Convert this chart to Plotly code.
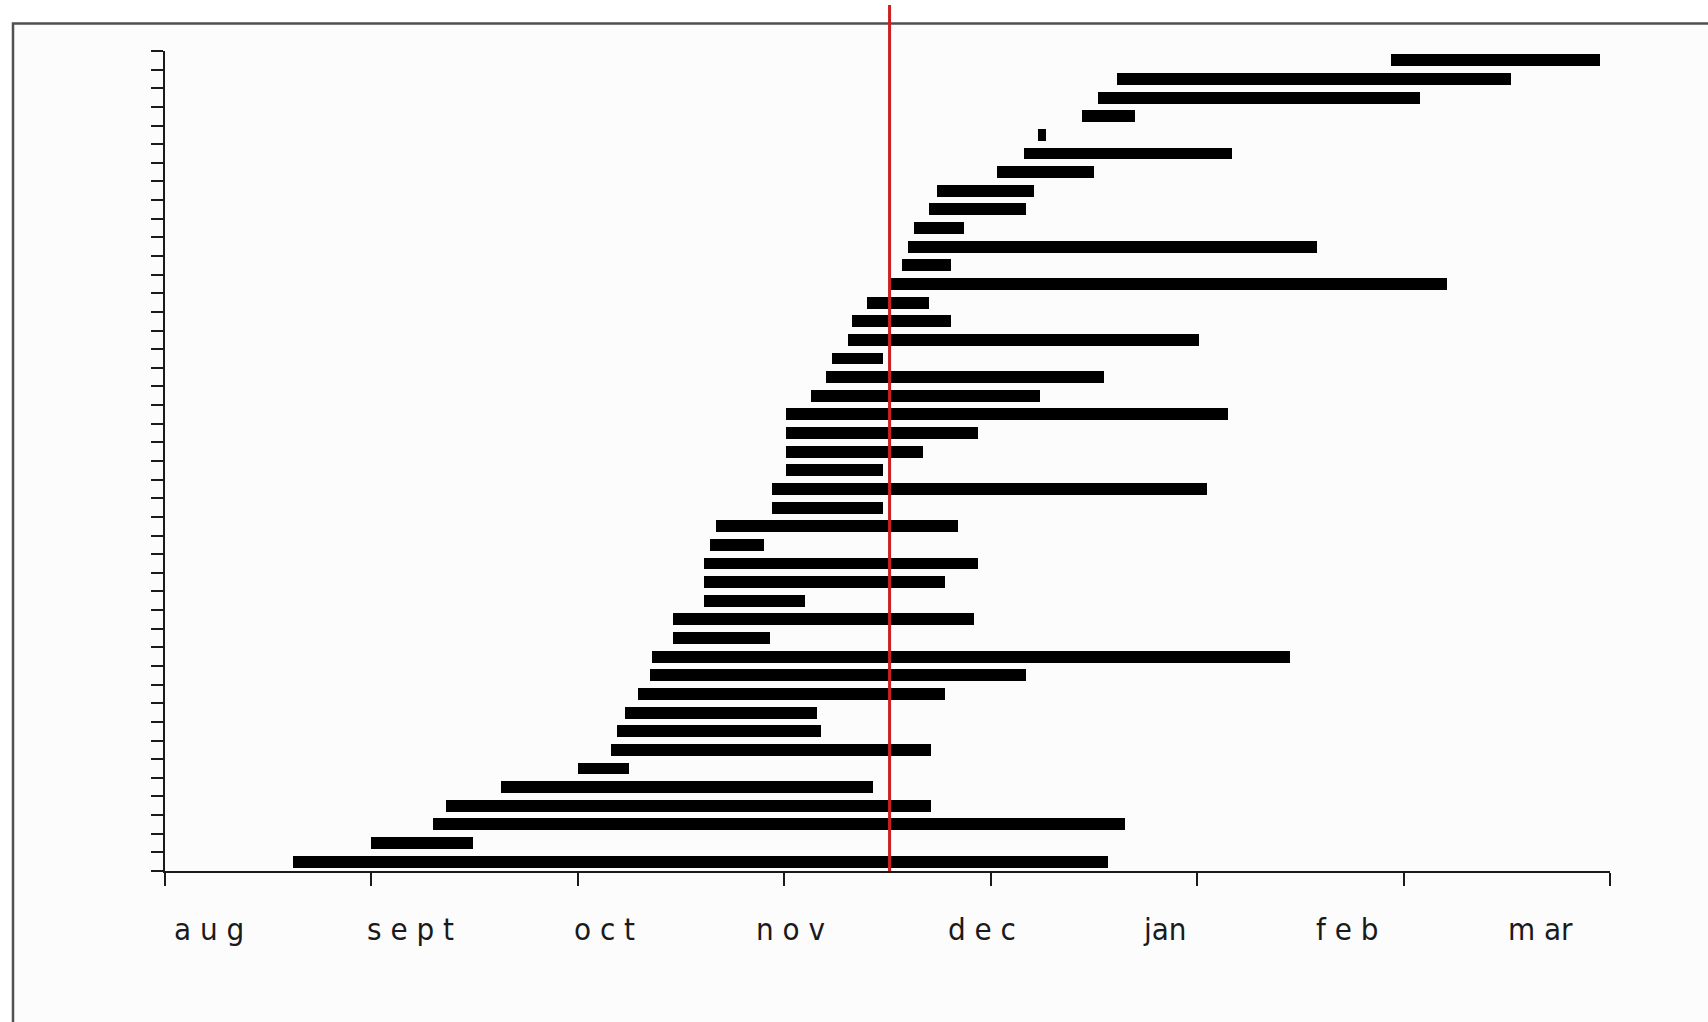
import plotly.graph_objects as go

# ---- data (x in month units: 0 = start of aug, 1 = sept, ... 7 = mar) ----
month_labels = ["a u g", "s e p t", "o c t", "n o v", "d e c", "jan", "f e b", "m ar"]

# bars listed from top of chart to bottom
start = [5.94, 4.61, 4.52, 4.44, 4.23, 4.16, 4.03, 3.74, 3.70, 3.63, 3.60,
         3.57, 3.51, 3.40, 3.33, 3.31, 3.23, 3.20, 3.13, 3.01, 3.01, 3.01,
         3.01, 2.94, 2.94, 2.67, 2.64, 2.61, 2.61, 2.61, 2.46, 2.46, 2.36,
         2.35, 2.29, 2.23, 2.19, 2.16, 2.00, 1.63, 1.36, 1.30, 1.00, 0.62]
end = [6.95, 6.52, 6.08, 4.70, 4.27, 5.17, 4.50, 4.21, 4.17, 3.87, 5.58,
       3.81, 6.21, 3.70, 3.81, 5.01, 3.48, 4.55, 4.24, 5.15, 3.94, 3.67,
       3.48, 5.05, 3.48, 3.84, 2.90, 3.94, 3.78, 3.10, 3.92, 2.93, 5.45,
       4.17, 3.78, 3.16, 3.18, 3.71, 2.25, 3.43, 3.71, 4.65, 1.49, 4.57]
marker_date = 3.51  # red reference line

n = len(start)
rows = [n - 0.5 - i for i in range(n)]  # category centres, top row first

# ---- layout geometry (pixels) ----
W, H = 1708, 1022
L, R, T, B = 165, 98, 51, 151
pw, ph = W - L - R, H - T - B

# horizontal placement of the month captions (axis units)
label_x = [0.211, 1.189, 2.129, 3.032, 3.957, 4.844, 5.726, 6.661]


def px_x(px):
    return (px - L) / pw


def px_y(py):
    return (H - B - py) / ph


fig = go.Figure()
fig.add_trace(go.Bar(
    y=rows,
    x=[e - s for s, e in zip(start, end)],
    base=start,
    orientation="h",
    width=0.64,
    marker=dict(color="black", line=dict(width=0)),
    hoverinfo="skip",
    showlegend=False,
))

shapes = [
    # outer frame (cut off at right and bottom edges)
    dict(type="rect", xref="paper", yref="paper",
         x0=px_x(13), x1=px_x(1720), y0=px_y(1035), y1=px_y(23.5),
         line=dict(color="#505050", width=2.5), fillcolor="#fcfcfc", layer="below"),
    # red vertical line
    dict(type="line", xref="x", yref="paper",
         x0=marker_date, x1=marker_date, y0=0, y1=px_y(5),
         line=dict(color="#cc2020", width=3), layer="above"),
]

annotations = []
for lx, lab in zip(label_x, month_labels):
    annotations.append(dict(
        x=lx, xref="x", y=0, yref="paper",
        text=lab, showarrow=False, xanchor="center", yanchor="middle",
        yshift=-58,
        font=dict(family="Liberation Sans Narrow, DejaVu Sans Condensed, Arial Narrow, sans-serif",
                  size=31, color="#1a1a1a"),
    ))

fig.update_layout(
    width=W, height=H,
    margin=dict(l=L, r=R, t=T, b=B, pad=0),
    paper_bgcolor="white",
    plot_bgcolor="rgba(0,0,0,0)",
    bargap=0,
    shapes=shapes,
    annotations=annotations,
    xaxis=dict(
        range=[0, 7], tickvals=list(range(8)), showticklabels=False,
        ticks="outside", ticklen=13, tickwidth=2, tickcolor="#1a1a1a",
        showline=True, linecolor="#1a1a1a", linewidth=2,
        showgrid=False, zeroline=False, fixedrange=True,
    ),
    yaxis=dict(
        range=[0, n], tickvals=list(range(n + 1)), showticklabels=False,
        ticks="outside", ticklen=12, tickwidth=2, tickcolor="#1a1a1a",
        showline=True, linecolor="#1a1a1a", linewidth=2,
        showgrid=False, zeroline=False, fixedrange=True,
    ),
)

fig.write_html("out.html", config={"displayModeBar": False},
               post_script="document.body.style.margin='0';")
